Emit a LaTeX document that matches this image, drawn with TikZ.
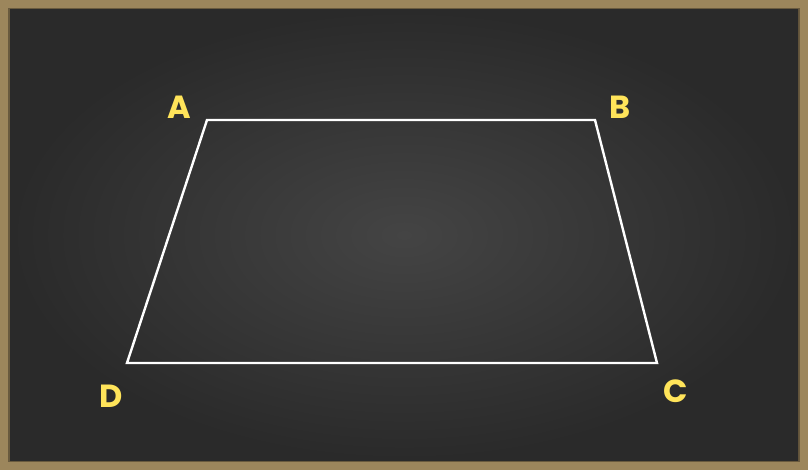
\documentclass[tikz,border=0pt]{standalone}
\usepackage{fontspec}
\setsansfont{Poppins}
\usetikzlibrary{positioning}
\definecolor{boardframe}{RGB}{156,134,92}
\definecolor{frameedge}{RGB}{105,90,62}
\definecolor{boardin}{RGB}{68,68,68}
\definecolor{boardout}{RGB}{42,42,42}
\definecolor{chalkyellow}{RGB}{255,228,90}
\begin{document}
\begin{tikzpicture}[x=1pt, y=-1pt,
		vertex/.style={font=\sffamily\bfseries\fontsize{32}{32}\selectfont, text=chalkyellow, inner sep=0pt},
		side/.style={draw=white, line width=2.4pt, line join=miter}]
		\useasboundingbox (0,0) rectangle (808,470);
		% frame and board
		\fill[boardframe] (0,0) rectangle (808,470);
		\draw[frameedge, line width=1.5pt] (9,9) rectangle (799,461);
		\shade[inner color=boardin, outer color=boardout] (10,10) rectangle (798,460);
		% corners
		\coordinate (A) at (207,120);
		\coordinate (B) at (595,120);
		\coordinate (C) at (657,363);
		\coordinate (D) at (127,363);
		\draw[side] (A) -- (B) -- (C) -- (D) -- cycle;
		% labels
		\node[vertex] (labA) at (179,107) {A};
		\node[vertex] (labB) at (620,107) {B};
		\node[vertex] (labC) at (676,391) {C};
		\node[vertex] (labD) at (111,396) {D};
\end{tikzpicture}
\end{document}
